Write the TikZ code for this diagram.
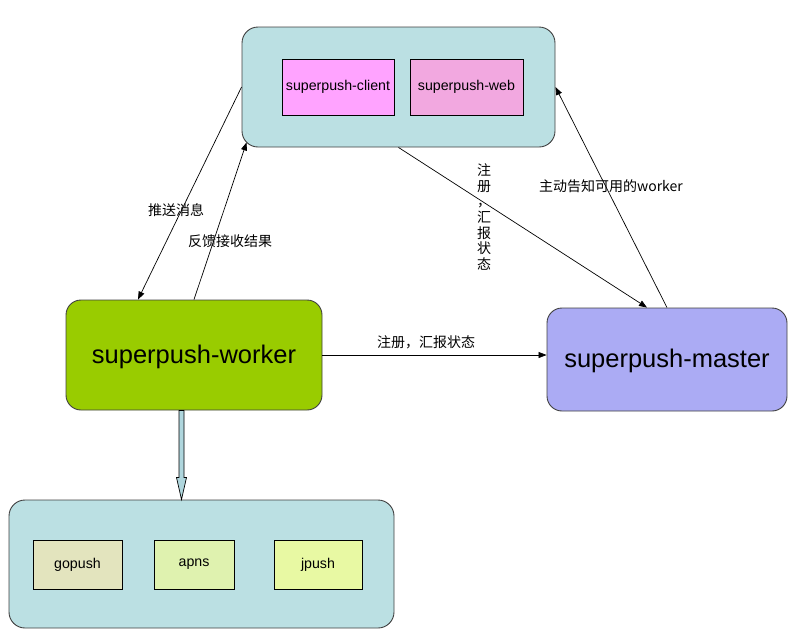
\documentclass[tikz,border=0pt]{standalone}
\usepackage{fontspec}
\setmainfont{Liberation Sans}
\newfontfamily\cjk{Noto Sans CJK SC}
\usetikzlibrary{calc}
\usetikzlibrary{arrows.meta}

\definecolor{groupblue}{HTML}{BBE0E3}
\definecolor{pipeblue}{HTML}{AFD6DD}
\definecolor{clientpink}{HTML}{FFA3FF}
\definecolor{webpink}{HTML}{F2A8E0}
\definecolor{workergreen}{HTML}{99CC00}
\definecolor{masterblue}{HTML}{ABABF4}
\definecolor{gopushcol}{HTML}{E3E4BE}
\definecolor{apnscol}{HTML}{DFF2AF}
\definecolor{jpushcol}{HTML}{E8F9A3}
\definecolor{edgegray}{HTML}{404040}

\begin{document}
\begin{tikzpicture}[x=1pt, y=-1pt,
  group/.style={draw=edgegray, fill=groupblue, rounded corners=16pt, line width=0.9pt, inner sep=0pt},
  module/.style={draw=black, line width=0.8pt, inner sep=0pt, font=\fontsize{14.2}{16}\selectfont},
  role/.style={draw=edgegray, line width=0.9pt, rounded corners=15pt, inner sep=0pt, text depth=2pt, font=\fontsize{25.5}{28}\selectfont},
  msg/.style={font=\cjk\fontsize{14}{15.6}\selectfont, inner sep=0pt},
  link/.style={black, line width=0.7pt, -{Triangle[length=8pt,width=6pt]}}]
\useasboundingbox (0,0) rectangle (795,638);

% web side
\node[group, minimum width=313pt, minimum height=120pt] (front) at (398.5,87) {};
\node[module, fill=clientpink, minimum width=112pt, minimum height=56pt] (client) at (338,87) {superpush-client};
\node[module, fill=webpink, minimum width=113pt, minimum height=56pt] (web) at (466.5,87) {superpush-web};

% roles
\node[role, fill=workergreen, minimum width=256pt, minimum height=110pt] (worker) at (194,355) {superpush-worker};
\node[role, fill=masterblue, minimum width=240pt, minimum height=103pt] (master) at (667,359.5) {superpush-master};

% push channels
\node[group, minimum width=385pt, minimum height=128pt] (channels) at (201.5,564) {};
\node[module, fill=gopushcol, minimum width=89pt, minimum height=49pt] (gopush) at (77.5,564.5) {gopush};
\node[module, fill=apnscol, minimum width=80pt, minimum height=49pt] (apns) at (194,564.5) {apns};
\node[module, fill=jpushcol, minimum width=88pt, minimum height=49pt] (jpush) at (318,564.5) {jpush};

% messages
\draw[link] (front.west) -- ([xshift=-56pt]worker.north);
\draw[link] (worker.north) -- ([xshift=5pt,yshift=5pt]front.south west);
\draw[link] (front.south) -- ([xshift=-20pt]master.north);
\draw[link] (master.north) -- (front.east);
\draw[link] (worker.east) -- (worker.east -| master.west);

\node[msg] (pushlabel) at (176,210) {推送消息};
\node[msg] (backlabel) at (230,241) {反馈接收结果};
\node[msg, align=center] (reglabel) at (484,217) {注\\册\\，\\汇\\报\\状\\态};
\node[msg] (telllabel) at (611,186) {主动告知可用的worker};
\node[msg] (statlabel) at (426,342) {注册，汇报状态};

% call into channels
\coordinate (pipeTop) at ([xshift=-12.5pt]worker.south);
\coordinate (pipeEnd) at (pipeTop |- channels.north);
\draw[line width=0.7pt, fill=pipeblue] ($(pipeTop)+(-2.5,0)$) -- ($(pipeEnd)+(-2.5,-22)$) -- ($(pipeEnd)+(-5,-22)$) -- (pipeEnd)
  -- ($(pipeEnd)+(5,-22)$) -- ($(pipeEnd)+(2.5,-22)$) -- ($(pipeTop)+(2.5,0)$) -- cycle;

\end{tikzpicture}
\end{document}
